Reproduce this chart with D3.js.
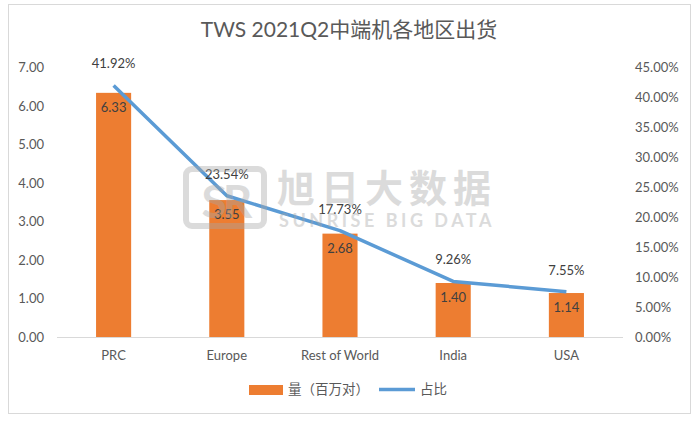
<!DOCTYPE html>
<html>
<head>
<meta charset="utf-8">
<script src="https://cdn.jsdelivr.net/npm/d3@7"></script>
<style>
  body { margin: 0; background: #fff; }
  text { font-family: Lato, "Noto Sans CJK SC", sans-serif; }
</style>
</head>
<body>
<div id="chart"></div>
<script>
// data
var regions = ["PRC", "Europe", "Rest of World", "India", "USA"];
var volume = [6.33, 3.55, 2.68, 1.40, 1.14];           // 量（百万对）
var share = [41.92, 23.54, 17.73, 9.26, 7.55];          // 占比 (%)
var leftTicks = [0, 1, 2, 3, 4, 5, 6, 7];
var rightTicks = [0, 5, 10, 15, 20, 25, 30, 35, 40, 45];
var seriesNames = ["量（百万对）", "占比"];

var W = 699, H = 421;
var orange = "#ED7D31", blue = "#5B9BD5", txt = "#595959";

var svg = d3.select("#chart")
    .append("svg")
    .attr("width", W)
    .attr("height", H);

// outer frame
svg.append("rect")
    .attr("x", 8.5).attr("y", 4.5)
    .attr("width", 682).attr("height", 409)
    .attr("fill", "#fff")
    .attr("stroke", "#d9d9d9");

// title
svg.append("text")
    .attr("x", 349).attr("y", 37)
    .attr("text-anchor", "middle")
    .attr("font-size", "21px")
    .attr("fill", txt)
    .text("TWS 2021Q2中端机各地区出货");

var x = d3.scaleBand().domain(regions).range([57, 623]).paddingInner(0.69).paddingOuter(0.345);
var yL = d3.scaleLinear().domain([0, 7]).range([337, 67]);
var yR = d3.scaleLinear().domain([0, 45]).range([337, 67]);

// left axis labels
svg.append("g")
    .attr("transform", "translate(47,0)")
    .call(d3.axisLeft(yL).tickValues(leftTicks).tickFormat(d3.format(".2f")).tickSize(0))
    .call(function(g){ g.select(".domain").remove(); })
    .selectAll("text")
    .attr("fill", txt).attr("font-size", "13px").attr("dy", "0.35em");

// right axis labels
svg.append("g")
    .attr("transform", "translate(632,0)")
    .call(d3.axisRight(yR).tickValues(rightTicks).tickFormat(function(d){ return d.toFixed(2) + "%"; }).tickSize(0))
    .call(function(g){ g.select(".domain").remove(); })
    .selectAll("text")
    .attr("fill", txt).attr("font-size", "13px").attr("dy", "0.35em");

// bars
svg.selectAll("rect.bar")
    .data(volume)
    .enter().append("rect")
    .attr("class", "bar")
    .attr("x", function(d, i){ return x(regions[i]); })
    .attr("y", function(d){ return yL(d); })
    .attr("width", x.bandwidth())
    .attr("height", function(d){ return yL(0) - yL(d); })
    .attr("fill", orange);

// baseline
svg.append("line")
    .attr("x1", 57).attr("x2", 623)
    .attr("y1", yL(0) + 0.5).attr("y2", yL(0) + 0.5)
    .attr("stroke", "#d9d9d9");

// category labels
svg.selectAll("text.cat")
    .data(regions)
    .enter().append("text")
    .attr("class", "cat")
    .attr("x", function(d){ return x(d) + x.bandwidth() / 2; })
    .attr("y", 360)
    .attr("text-anchor", "middle")
    .attr("font-size", "13px")
    .attr("fill", txt)
    .text(function(d){ return d; });

// share line
var line = d3.line()
    .x(function(d, i){ return x(regions[i]) + x.bandwidth() / 2; })
    .y(function(d){ return yR(d); });

svg.append("path")
    .datum(share)
    .attr("d", line)
    .attr("fill", "none")
    .attr("stroke", blue)
    .attr("stroke-width", 3.5)
    .attr("stroke-linejoin", "round");

// bar value labels (inside end)
svg.selectAll("text.vol")
    .data(volume)
    .enter().append("text")
    .attr("class", "vol")
    .attr("x", function(d, i){ return x(regions[i]) + x.bandwidth() / 2; })
    .attr("y", function(d){ return yL(d) + 19; })
    .attr("text-anchor", "middle")
    .attr("font-size", "13px")
    .attr("fill", "#404040")
    .text(function(d){ return d.toFixed(2); });

// line value labels (above)
svg.selectAll("text.share")
    .data(share)
    .enter().append("text")
    .attr("class", "share")
    .attr("x", function(d, i){ return x(regions[i]) + x.bandwidth() / 2; })
    .attr("y", function(d){ return yR(d) - 17; })
    .attr("text-anchor", "middle")
    .attr("font-size", "13px")
    .attr("fill", "#404040")
    .text(function(d){ return d.toFixed(2) + "%"; });

// watermark
var wm = svg.append("g").attr("opacity", 0.4).attr("fill", "#a6a6a6");
wm.append("rect")
    .attr("x", 186).attr("y", 169).attr("width", 78).attr("height", 57).attr("rx", 6)
    .attr("fill", "none").attr("stroke", "#a6a6a6").attr("stroke-width", 6);
wm.append("text")
    .attr("x", 225).attr("y", 218)
    .attr("text-anchor", "middle")
    .attr("font-size", "46px").attr("font-weight", "bold")
    .attr("letter-spacing", "-4px")
    .text("SR");
wm.append("text")
    .attr("x", 387).attr("y", 202)
    .attr("text-anchor", "middle")
    .attr("font-size", "38px").attr("font-weight", "bold")
    .attr("letter-spacing", "6px")
    .text("旭日大数据");
wm.append("text")
    .attr("x", 387).attr("y", 227)
    .attr("text-anchor", "middle")
    .attr("font-size", "18px").attr("font-weight", "bold")
    .attr("letter-spacing", "3.5px")
    .text("SUNRISE BIG DATA");

// legend
var lg = svg.append("g");
lg.append("rect")
    .attr("x", 249).attr("y", 385).attr("width", 34).attr("height", 10)
    .attr("fill", orange);
lg.append("text")
    .attr("x", 288).attr("y", 394)
    .attr("font-size", "13.5px").attr("fill", txt)
    .text(seriesNames[0]);
lg.append("line")
    .attr("x1", 379).attr("x2", 415).attr("y1", 389.5).attr("y2", 389.5)
    .attr("stroke", blue).attr("stroke-width", 3.5);
lg.append("text")
    .attr("x", 420).attr("y", 394)
    .attr("font-size", "13.5px").attr("fill", txt)
    .text(seriesNames[1]);
</script>
</body>
</html>
